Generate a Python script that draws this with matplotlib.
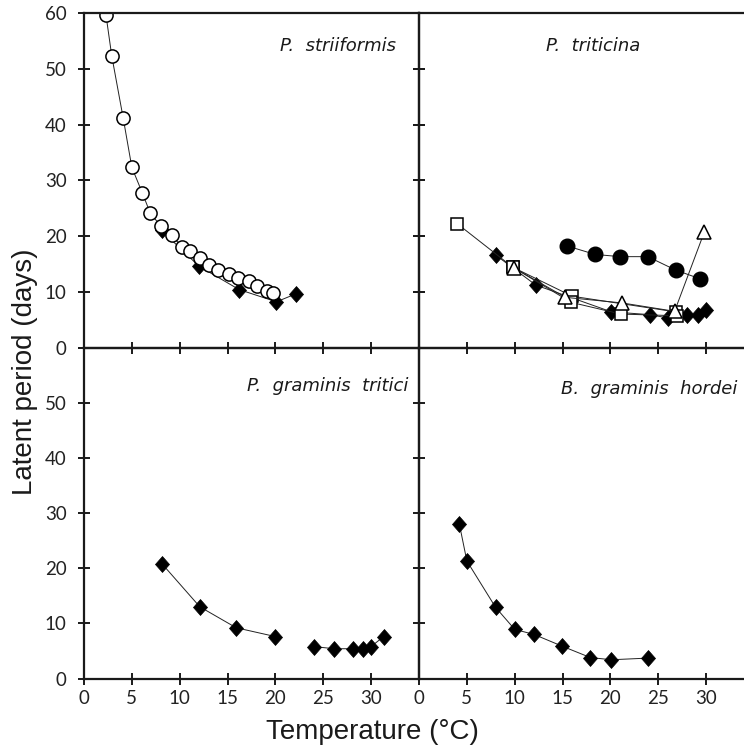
import matplotlib.pyplot as plt
from matplotlib.path import Path

# P. striiformis
ps_open_t = [2.3, 2.9, 4.1, 5.0, 6.1, 6.9, 8.0, 9.2, 10.2, 11.1, 12.1, 13.1, 14.0, 15.1, 16.1, 17.2, 18.1, 19.1, 19.7]
ps_open_lp = [59.6, 52.3, 41.1, 32.3, 27.7, 24.2, 21.8, 20.1, 18.1, 17.4, 16.0, 14.8, 13.9, 13.2, 12.4, 11.9, 11.0, 10.2, 9.7]
ps_dia_t = [8.1, 12.0, 16.2, 20.1, 22.1]
ps_dia_lp = [21.0, 14.6, 10.4, 8.2, 9.6]

# P. triticina
pt_sq_t = [4.0, 9.8, 15.9, 21.1, 27.0]
pt_sq_lp = [22.2, 14.4, 8.1, 6.0, 5.7]
pt_sq2_t = [9.8, 16.0, 26.8]
pt_sq2_lp = [14.4, 9.2, 6.4]
pt_tri_t = [9.9, 15.3, 21.2, 26.7, 29.8]
pt_tri_lp = [14.3, 9.0, 8.0, 6.5, 20.7]
pt_fc_t = [15.5, 18.4, 21.0, 23.9, 26.8, 29.4]
pt_fc_lp = [18.2, 16.7, 16.3, 16.3, 13.9, 12.3]
pt_dia_t = [8.0, 12.2, 20.1, 24.1, 26.0, 28.0, 29.1, 30.0]
pt_dia_lp = [16.6, 11.2, 6.4, 5.9, 5.3, 5.8, 5.8, 6.8]

# P. graminis tritici (two runs)
pg1_t = [8.2, 12.1, 15.9, 20.0]
pg1_lp = [20.7, 13.0, 9.2, 7.6]
pg2_t = [24.0, 26.1, 28.1, 29.1, 30.0, 31.3]
pg2_lp = [5.8, 5.4, 5.4, 5.4, 5.8, 7.6]

# B. graminis hordei
bg_t = [4.2, 5.0, 8.0, 10.0, 12.0, 14.9, 17.9, 20.1, 23.9]
bg_lp = [28.1, 21.3, 12.9, 8.9, 8.0, 5.9, 3.8, 3.4, 3.7]

xticks = [0, 5, 10, 15, 20, 25, 30]

# slightly tall diamond
dia = Path([(0, 1), (0.88, 0), (0, -1), (-0.88, 0), (0, 1)],
           [Path.MOVETO, Path.LINETO, Path.LINETO, Path.LINETO, Path.CLOSEPOLY])

tickfont = {'family': 'Lato', 'size': 13.5}
line_kw = dict(color='#222222', lw=0.7)
dia_kw = dict(marker=dia, ms=11.5, mfc='black', mec='black', mew=0.5)

fig = plt.figure(figsize=(7.44, 7.56), dpi=100)

L, W = 0.1129, 0.4503
X2 = 0.5632
B2, H2 = 0.1025, 0.4378
B1, H1 = 0.5403, 0.4425

ax_tl = fig.add_axes([L, B1, W, H1])
ax_tr = fig.add_axes([X2, B1, W, H1])
ax_bl = fig.add_axes([L, B2, W, H2])
ax_br = fig.add_axes([X2, B2, W, H2])

for ax in (ax_tl, ax_tr, ax_bl, ax_br):
    ax.set_xlim(0, 35)
    ax.set_ylim(0, 60)
    ax.set_xticks(xticks)
    ax.set_yticks(range(0, 61, 10))
    for s in ax.spines.values():
        s.set_linewidth(1.6)
        s.set_color('#1a1a1a')
    ax.tick_params(direction='inout', length=9, width=1.4, color='#1a1a1a')
    ax.set_facecolor('none')

ax_tl.tick_params(labelbottom=False, right=True, pad=8)
ax_tr.tick_params(labelbottom=False, labelleft=False)
ax_br.tick_params(labelleft=False, pad=4)
ax_bl.tick_params(axis='x', pad=4)
ax_bl.tick_params(axis='y', pad=8)
ax_bl.set_yticks(range(0, 61, 10))
ax_bl.set_yticklabels(['0', '10', '20', '30', '40', '50', ''])
for ax in (ax_tl, ax_bl, ax_br):
    for lab in ax.get_xticklabels() + ax.get_yticklabels():
        lab.set_fontfamily(tickfont['family'])
        lab.set_fontsize(tickfont['size'])
        lab.set_color('#222222')

# top left
ax_tl.plot(ps_dia_t, ps_dia_lp, **dia_kw, **line_kw)
ax_tl.plot(ps_open_t, ps_open_lp, marker='o', ms=9.5, mfc='white', mec='black', mew=1.1, **line_kw)

# top right
ax_tr.plot(pt_dia_t, pt_dia_lp, **dia_kw, **line_kw)
ax_tr.plot(pt_sq2_t, pt_sq2_lp, marker='s', ms=8, mfc='white', mec='black', mew=1.1, **line_kw)
ax_tr.plot(pt_sq_t, pt_sq_lp, marker='s', ms=8, mfc='white', mec='black', mew=1.1, **line_kw)
ax_tr.plot(pt_tri_t, pt_tri_lp, marker='^', ms=10, mfc='white', mec='black', mew=1.1, **line_kw)
ax_tr.plot(pt_fc_t, pt_fc_lp, marker='o', ms=10.5, mfc='black', mec='black', **line_kw)

# bottom left
ax_bl.plot(pg1_t, pg1_lp, **dia_kw, **line_kw)
ax_bl.plot(pg2_t, pg2_lp, **dia_kw, **line_kw)

# bottom right
ax_br.plot(bg_t, bg_lp, **dia_kw, **line_kw)

tfont = dict(family='DejaVu Sans', style='italic', size=13, color='#1a1a1a')
ax_tl.text(0.93, 0.90, 'P.  striiformis', transform=ax_tl.transAxes, ha='right', va='center', **tfont)
ax_tr.text(0.52, 0.90, 'P.  triticina', transform=ax_tr.transAxes, ha='center', va='center', **tfont)
ax_bl.text(0.967, 0.885, 'P.  graminis  tritici', transform=ax_bl.transAxes, ha='right', va='center', **tfont)
ax_br.text(0.949, 0.875, 'B.  graminis  hordei', transform=ax_br.transAxes, ha='right', va='center', **tfont)

fig.text(0.5, 0.032, 'Temperature (°C)', ha='center', va='center',
         family='Liberation Sans', size=20, color='#1a1a1a')
fig.text(0.034, 0.508, 'Latent period (days)', ha='center', va='center', rotation=90,
         family='Liberation Sans', size=20, color='#1a1a1a')

fig.savefig('out.png', dpi=100)
